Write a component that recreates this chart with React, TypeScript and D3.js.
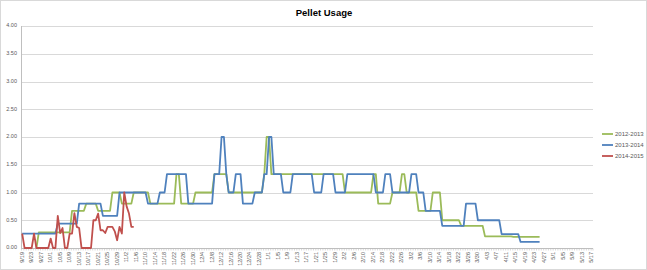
import React from "react";
import * as d3 from "d3";

const W = 647;
const H = 270;

const title = "Pellet Usage";
const seriesNames = ["2012-2013", "2013-2014", "2014-2015"];
const seriesColors = ["#9bbb59", "#4f81bd", "#c0504d"];
const yTicks = [0, 0.5, 1, 1.5, 2, 2.5, 3, 3.5, 4];

const tickLabels = [
  "9/19", "9/23", "9/27", "10/1", "10/5", "10/9", "10/13", "10/17", "10/21", "10/25",
  "10/29", "11/2", "11/6", "11/10", "11/14", "11/18", "11/22", "11/26", "11/30", "12/4",
  "12/8", "12/12", "12/16", "12/20", "12/24", "12/28", "1/1", "1/5", "1/9", "1/13",
  "1/17", "1/21", "1/25", "1/29", "2/2", "2/6", "2/10", "2/14", "2/18", "2/22",
  "2/26", "3/2", "3/6", "3/10", "3/14", "3/18", "3/22", "3/26", "3/30", "4/3",
  "4/7", "4/11", "4/15", "4/19", "4/23", "4/27", "5/1", "5/5", "5/9", "5/13", "5/17",
];

// daily categories 9/19 .. 5/17
const days = d3.timeDay.range(new Date(2013, 8, 19), new Date(2014, 4, 18));
const dayLabels = days.map((d) => d3.timeFormat("%-m/%-d")(d));

// 2012-2013 (starts on day index 6)
const s2012: (number | null)[] = [
  null, null, null, null, null, null,
  0,
  0.28, 0.28, 0.28, 0.28, 0.28, 0.28, 0.28, 0.28, 0.28, 0.28, 0.28, 0.28, 0.28, 0.28,
  0.67, 0.67, 0.67, 0.67, 0.67, 0.67,
  0.8, 0.8, 0.8, 0.8, 0.8,
  0.67, 0.67, 0.67, 0.67, 0.67, 0.67,
  1, 1, 1, 1,
  0.8, 0.8, 0.8, 0.8, 0.8,
  1, 1, 1, 1, 1, 1, 1,
  0.8, 0.8, 0.8, 0.8, 0.8, 0.8, 0.8, 0.8, 0.8, 0.8, 0.8,
  1.33, 1.33,
  0.8, 0.8, 0.8, 0.8, 0.8, 0.8,
  1, 1, 1, 1, 1, 1, 1, 1,
  1.33, 1.33, 1.33, 1.33, 1.33, 1.33,
  1, 1, 1, 1, 1, 1, 1, 1, 1, 1, 1, 1, 1, 1, 1,
  1.33,
  2, 2,
  1.33, 1.33, 1.33, 1.33, 1.33, 1.33, 1.33, 1.33, 1.33, 1.33,
  1.33, 1.33, 1.33, 1.33, 1.33, 1.33, 1.33, 1.33, 1.33, 1.33,
  1.33, 1.33, 1.33, 1.33, 1.33, 1.33, 1.33, 1.33, 1.33, 1.33, 1.33,
  1, 1, 1, 1, 1, 1, 1, 1, 1, 1, 1, 1,
  1.33, 1.33,
  0.8, 0.8, 0.8, 0.8, 0.8, 0.8,
  1, 1, 1, 1,
  1.33, 1.33,
  1, 1, 1, 1, 1,
  0.67, 0.67, 0.67, 0.67, 0.67, 0.67,
  1, 1, 1, 1,
  0.5, 0.5, 0.5, 0.5, 0.5, 0.5, 0.5, 0.5,
  0.4, 0.4, 0.4, 0.4, 0.4, 0.4, 0.4, 0.4, 0.4, 0.4,
  0.21, 0.21, 0.21, 0.21, 0.21, 0.21, 0.21, 0.21, 0.21, 0.21, 0.21, 0.21,
  0.2, 0.2, 0.2, 0.2, 0.2, 0.2, 0.2, 0.2, 0.2, 0.2, 0.2, 0.2,
];

// 2013-2014
const s2013: number[] = [
  0.26, 0.26, 0.26, 0.26, 0.26, 0.26, 0.26, 0.26, 0.26, 0.26, 0.26, 0.26, 0.26, 0.26, 0.26,
  0.44, 0.44, 0.44, 0.44, 0.44, 0.44, 0.44, 0.44, 0.44,
  0.8, 0.8, 0.8, 0.8, 0.8, 0.8, 0.8, 0.8, 0.8, 0.8,
  0.58, 0.58, 0.58, 0.58, 0.58, 0.58, 0.58,
  1, 1, 1, 1, 1, 1, 1, 1, 1, 1, 1, 1,
  0.8, 0.8, 0.8, 0.8, 0.8,
  1, 1, 1,
  1.33, 1.33, 1.33, 1.33, 1.33, 1.33, 1.33, 1.33, 1.33,
  0.8, 0.8, 0.8, 0.8, 0.8, 0.8, 0.8, 0.8, 0.8, 0.8, 0.8,
  1.33, 1.33, 1.33,
  2, 2,
  1.33,
  1, 1, 1,
  1.33, 1.33, 1.33,
  0.8, 0.8, 0.8, 0.8, 0.8,
  1, 1, 1, 1,
  1.33, 1.33,
  2, 2,
  1.33, 1.33, 1.33, 1.33,
  1, 1, 1, 1,
  1.33, 1.33, 1.33, 1.33, 1.33, 1.33, 1.33, 1.33, 1.33,
  1, 1, 1, 1,
  1.33, 1.33, 1.33, 1.33, 1.33,
  1, 1, 1, 1, 1,
  1.33, 1.33, 1.33, 1.33, 1.33, 1.33, 1.33, 1.33, 1.33, 1.33, 1.33, 1.33,
  1, 1, 1, 1,
  1.33, 1.33, 1.33,
  1, 1, 1, 1, 1, 1, 1, 1,
  1.33, 1.33, 1.33,
  1, 1, 1,
  0.67, 0.67, 0.67, 0.67, 0.67, 0.67, 0.67,
  0.4, 0.4, 0.4, 0.4, 0.4, 0.4, 0.4, 0.4, 0.4, 0.4,
  0.8, 0.8, 0.8, 0.8, 0.8,
  0.5, 0.5, 0.5, 0.5, 0.5, 0.5, 0.5, 0.5, 0.5, 0.5,
  0.25, 0.25, 0.25, 0.25, 0.25, 0.25, 0.25, 0.25,
  0.11, 0.11, 0.11, 0.11, 0.11, 0.11, 0.11, 0.11, 0.11,
];

// 2014-2015
const s2014: number[] = [
  0.26, 0, 0, 0, 0, 0.26, 0, 0, 0, 0,
  0, 0, 0.17, 0, 0, 0.58, 0.27, 0.36, 0, 0,
  0.26, 0.26, 0.63, 0.38, 0.36, 0, 0, 0, 0, 0,
  0.5, 0.5, 0.62, 0.32, 0.32, 0.27, 0.38, 0.38, 0.38, 0.3,
  0.14, 0.38, 0.26, 1.0, 0.75, 0.62, 0.38, 0.38,
];

const seriesData = [s2012, s2013, s2014];

const plot = { left: 21, right: 593, top: 26, bottom: 248 };
const FONT = "'Liberation Sans', Arial, sans-serif";

export default function App() {
  const x = d3
    .scaleBand<string>()
    .domain(dayLabels.map((d, i) => String(i)))
    .range([plot.left, plot.right])
    .paddingInner(0)
    .paddingOuter(0);
  const bw = x.bandwidth();
  const cx = (i: number) => (x(String(i)) as number) + bw / 2;
  const y = d3.scaleLinear().domain([0, 4]).range([plot.bottom, plot.top]);

  const line = d3
    .line<number | null>()
    .defined((d) => d !== null)
    .x((_, i) => cx(i))
    .y((d) => y(d as number));

  const tickFmt = d3.format(".2f");

  return (
    <svg
      width={W}
      height={H}
      style={{ position: "absolute", left: 0, top: 0, background: "#fff" }}
      fontFamily={FONT}
    >
      <rect x={0.5} y={0.5} width={W - 1} height={H - 1} fill="#fff" stroke="#d9d9d9" />
      <text
        x={324}
        y={16}
        textAnchor="middle"
        fontSize={9.5}
        fontWeight="bold"
        fill="#000"
      >
        {title}
      </text>

      {/* gridlines */}
      {yTicks.map((t) => (
        <line
          key={"g" + t}
          x1={plot.left}
          x2={plot.right}
          y1={Math.round(y(t)) + 0.5}
          y2={Math.round(y(t)) + 0.5}
          stroke={t === 0 ? "#bfbfbf" : "#d9d9d9"}
          strokeWidth={1}
        />
      ))}
      {yTicks.map((t) => (
        <text
          key={"yl" + t}
          x={17}
          y={y(t)}
          textAnchor="end"
          dominantBaseline="middle"
          fontSize={5.5}
          fill="#595959"
        >
          {tickFmt(t)}
        </text>
      ))}
      {/* y axis line */}
      <line
        x1={plot.left + 0.5}
        x2={plot.left + 0.5}
        y1={plot.top}
        y2={plot.bottom}
        stroke="#bfbfbf"
      />
      {/* category ticks */}
      {dayLabels.map((_, i) => (
        <line
          key={"t" + i}
          x1={(x(String(i)) as number) + 0.5}
          x2={(x(String(i)) as number) + 0.5}
          y1={plot.bottom + 0.5}
          y2={plot.bottom + 2.5}
          stroke="#bfbfbf"
          strokeWidth={0.6}
        />
      ))}
      <line
        x1={plot.right}
        x2={plot.right}
        y1={plot.bottom + 0.5}
        y2={plot.bottom + 2.5}
        stroke="#bfbfbf"
        strokeWidth={0.6}
      />
      {tickLabels.map((lab, k) => (
        <text
          key={"xl" + k}
          transform={`translate(${cx(k * 4)},${plot.bottom + 4}) rotate(-90)`}
          textAnchor="end"
          dominantBaseline="middle"
          fontSize={5.5}
          fill="#595959"
        >
          {lab}
        </text>
      ))}

      {/* series */}
      {seriesData.map((s, si) => (
        <path
          key={"s" + si}
          d={line(s as (number | null)[]) || ""}
          fill="none"
          stroke={seriesColors[si]}
          strokeWidth={1.8}
          strokeLinejoin="round"
        />
      ))}

      {/* legend */}
      {seriesNames.map((n, si) => (
        <g key={"lg" + si} transform={`translate(602,${134 + si * 11})`}>
          <line x1={0} x2={11} y1={0} y2={0} stroke={seriesColors[si]} strokeWidth={1.8} />
          <text x={13} y={0} dominantBaseline="middle" fontSize={6} fill="#595959">
            {n}
          </text>
        </g>
      ))}
    </svg>
  );
}
